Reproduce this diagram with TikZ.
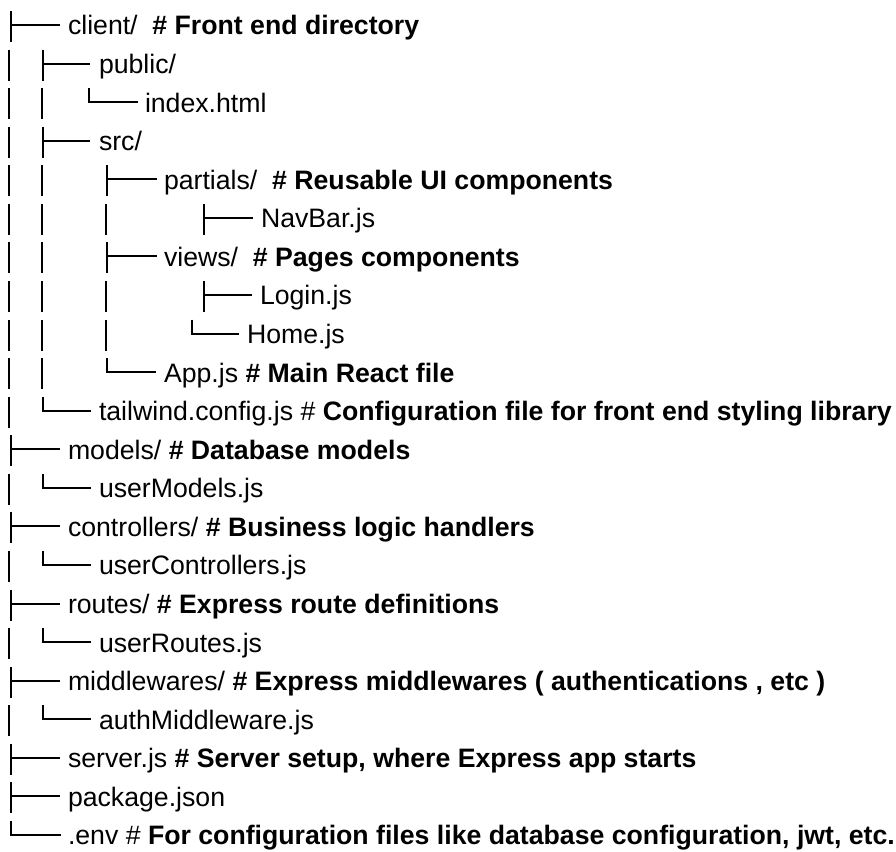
\documentclass[tikz,border=0pt]{standalone}
\usepackage{fontspec}
\setmainfont{Liberation Sans}
\newcommand\ry[1]{25+38.57*#1}
\newcommand\treeT[3]{\draw[glyph] (#2,{\ry{#1}-14}) -- (#2,{\ry{#1}+17}); \draw[glyph] (#2,{\ry{#1}}) -- (#3,{\ry{#1}});}
\newcommand\treeL[3]{\draw[glyph] (#2,{\ry{#1}-14}) -- (#2,{\ry{#1}}) -- (#3,{\ry{#1}});}
\newcommand\treeBar[2]{\draw[glyph] (#2,{\ry{#1}-14}) -- (#2,{\ry{#1}+17});}
\begin{document}
\begin{tikzpicture}[x=0.75pt,y=-0.75pt,
  glyph/.style={line width=1.5pt, line cap=butt, line join=miter, black},
  lbl/.style={anchor=base west, inner sep=0pt, outer sep=0pt, font=\fontsize{20}{24}\selectfont}]
\useasboundingbox (0,0) rectangle (896,852);
% row 0
\treeT{0}{11}{60}
\node[lbl] (r0) at (68,{\ry{0}+10}) {client/\ \ \textbf{\# Front end directory}};
% row 1
\treeBar{1}{9}\treeT{1}{43}{90}
\node[lbl] (r1) at (99,{\ry{1}+10}) {public/};
% row 2
\treeBar{2}{9}\treeBar{2}{42}\treeL{2}{89}{138}
\node[lbl] (r2) at (145,{\ry{2}+10}) {index.html};
% row 3
\treeBar{3}{9}\treeT{3}{43}{90}
\node[lbl] (r3) at (99,{\ry{3}+10}) {src/};
% row 4
\treeBar{4}{9}\treeBar{4}{42}\treeT{4}{107}{157}
\node[lbl] (r4) at (164,{\ry{4}+10}) {partials/\ \ \textbf{\# Reusable UI components}};
% row 5
\treeBar{5}{9}\treeBar{5}{42}\treeBar{5}{106}\treeT{5}{204}{253}
\node[lbl] (r5) at (261,{\ry{5}+10}) {NavBar.js};
% row 6
\treeBar{6}{9}\treeBar{6}{42}\treeT{6}{107}{157}
\node[lbl] (r6) at (164,{\ry{6}+10}) {views/\ \ \textbf{\# Pages components}};
% row 7
\treeBar{7}{9}\treeBar{7}{42}\treeBar{7}{106}\treeT{7}{204}{252}
\node[lbl] (r7) at (260,{\ry{7}+10}) {Login.js};
% row 8
\treeBar{8}{9}\treeBar{8}{42}\treeBar{8}{106}\treeL{8}{192}{239}
\node[lbl] (r8) at (247,{\ry{8}+10}) {Home.js};
% row 9
\treeBar{9}{9}\treeBar{9}{42}\treeL{9}{107}{156}
\node[lbl] (r9) at (164,{\ry{9}+10}) {App.js \textbf{\# Main React file}};
% row 10
\treeBar{10}{9}\treeL{10}{43}{91}
\node[lbl] (r10) at (99,{\ry{10}+10}) {tailwind.config.js \# \textbf{Configuration file for front end styling library}};
% row 11
\treeT{11}{11}{60}
\node[lbl] (r11) at (68,{\ry{11}+10}) {models/ \textbf{\# Database models}};
% row 12
\treeBar{12}{9}\treeL{12}{43}{91}
\node[lbl] (r12) at (99,{\ry{12}+10}) {userModels.js};
% row 13
\treeT{13}{11}{60}
\node[lbl] (r13) at (68,{\ry{13}+10}) {controllers/ \textbf{\# Business logic handlers}};
% row 14
\treeBar{14}{9}\treeL{14}{43}{91}
\node[lbl] (r14) at (99,{\ry{14}+10}) {userControllers.js};
% row 15
\treeT{15}{11}{60}
\node[lbl] (r15) at (68,{\ry{15}+10}) {routes/ \textbf{\# Express route definitions}};
% row 16
\treeBar{16}{9}\treeL{16}{43}{91}
\node[lbl] (r16) at (99,{\ry{16}+10}) {userRoutes.js};
% row 17
\treeT{17}{11}{60}
\node[lbl] (r17) at (68,{\ry{17}+10}) {middlewares/ \textbf{\# Express middlewares ( authentications , etc )}};
% row 18
\treeBar{18}{9}\treeL{18}{43}{91}
\node[lbl] (r18) at (99,{\ry{18}+10}) {authMiddleware.js};
% row 19
\treeT{19}{11}{60}
\node[lbl] (r19) at (68,{\ry{19}+10}) {server.js \textbf{\# Server setup, where Express app starts}};
% row 20
\treeT{20}{11}{60}
\node[lbl] (r20) at (68,{\ry{20}+10}) {package.json};
% row 21
\treeL{21}{11}{61}
\node[lbl] (r21) at (68,{\ry{21}+10}) {.env \# \textbf{For configuration files like database configuration, jwt, etc.}};
\end{tikzpicture}
\end{document}
